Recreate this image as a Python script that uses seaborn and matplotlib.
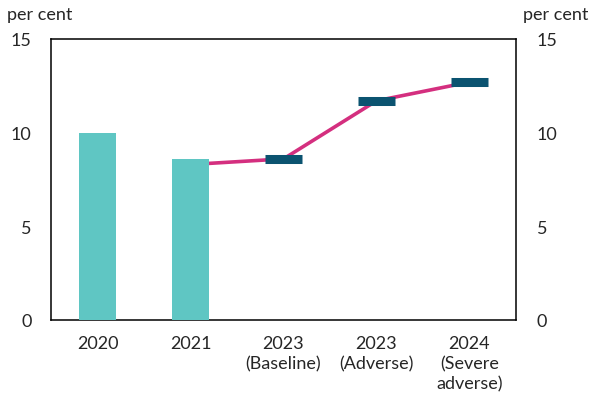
import numpy as np
import pandas as pd
import seaborn as sns
import matplotlib
import matplotlib.pyplot as plt

matplotlib.use('Agg')

# 数据
categories = ['2020', '2021', '2023\n(Baseline)', '2023\n(Adverse)', '2024\n(Severe\nadverse)']
bar_cats = ['2020', '2021']
bar_values = [10.0, 8.6]
line_cats = ['2021', '2023\n(Baseline)', '2023\n(Adverse)', '2024\n(Severe\nadverse)']
line_values = [8.3, 8.6, 11.7, 12.7]
marker_cats = ['2023\n(Baseline)', '2023\n(Adverse)', '2024\n(Severe\nadverse)']
marker_values = [8.6, 11.7, 12.7]
y_ticks = [0, 5, 10, 15]

bar_color = '#5fc6c3'
line_color = '#d42f7f'
marker_color = '#0b5370'

sns.set_theme(style='white')
plt.rcParams['font.family'] = ['Lato', 'DejaVu Sans']

fig = plt.figure(figsize=(5.9, 4.02), dpi=100)
ax = fig.add_axes([0.0864, 0.2015, 0.7882, 0.699])

# 柱状图
bars = pd.DataFrame({'cat': bar_cats, 'val': bar_values})
sns.barplot(data=bars, x='cat', y='val', order=categories, color=bar_color,
            saturation=1, width=0.4, linewidth=0, ax=ax, zorder=3)

# 折线
line_df = pd.DataFrame({'pos': [categories.index(c) for c in line_cats], 'val': line_values})
sns.lineplot(data=line_df, x='pos', y='val', color=line_color, linewidth=2.6, ax=ax, zorder=2)

# 情景标记
mpos = np.array([categories.index(c) for c in marker_cats])
ax.hlines(marker_values, mpos - 0.2, mpos + 0.2, colors=marker_color,
          linewidth=6.5, zorder=4, capstyle='butt')

ax.set_xlim(-0.5, 4.5)
ax.set_ylim(0, 15)
ax.set_yticks(y_ticks)
ax.set_xticks(range(len(categories)))
ax.set_xticklabels(categories, fontsize=13, linespacing=1.3)
ax.set_xlabel('')
ax.set_ylabel('')
ax.tick_params(axis='y', labelsize=13, length=0, pad=14)
ax.tick_params(axis='x', length=0, pad=11)
for s in ax.spines.values():
    s.set_visible(True)
    s.set_color('black')
    s.set_linewidth(1.1)

ax2 = ax.twinx()
ax2.set_ylim(0, 15)
ax2.set_yticks(y_ticks)
ax2.tick_params(axis='y', labelsize=13, length=0, pad=15)
ax2.grid(False)
for s in ax2.spines.values():
    s.set_visible(False)

fig.text(0.012, 0.962, 'per cent', fontsize=13, ha='left', va='center')
fig.text(0.997, 0.962, 'per cent', fontsize=13, ha='right', va='center')

fig.savefig('out.png', dpi=100)
